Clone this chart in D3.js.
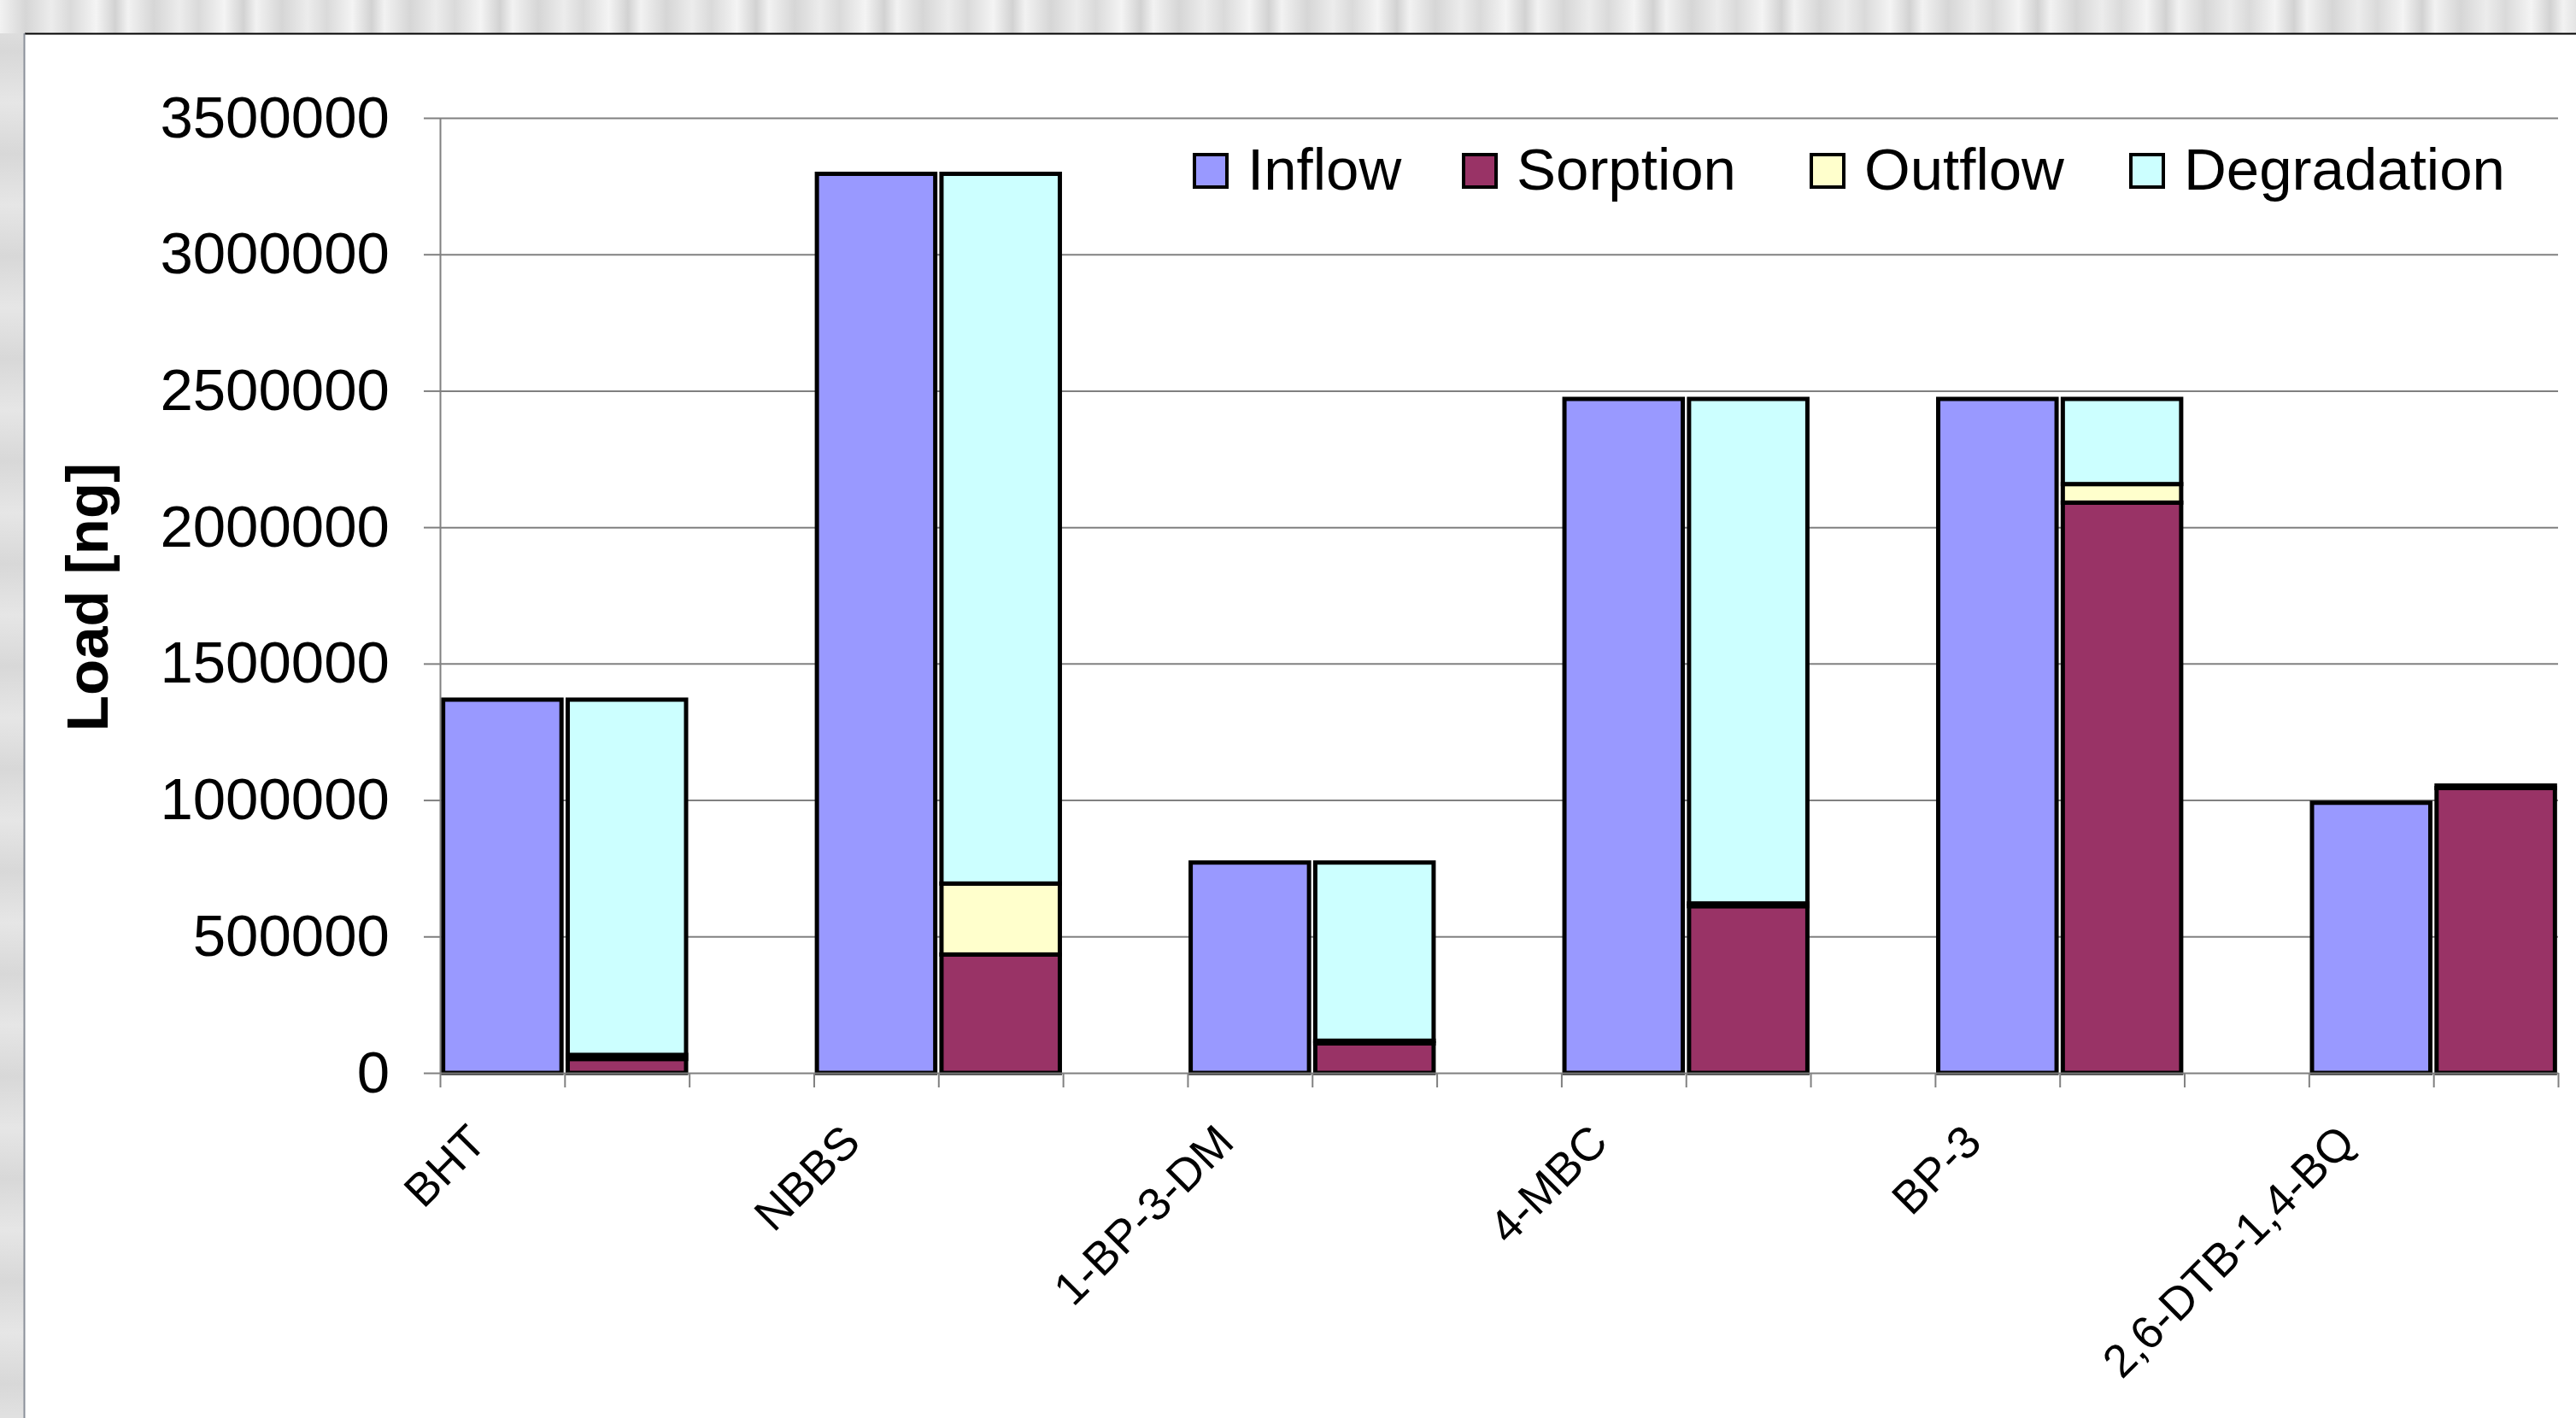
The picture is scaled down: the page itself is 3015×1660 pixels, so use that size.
<!DOCTYPE html>
<html>
<head>
<meta charset="utf-8">
<script src="https://cdn.jsdelivr.net/npm/d3@7"></script>
<style>
  html, body { margin:0; padding:0; background:#fff; }
  svg { display:block; font-family:"Liberation Sans", Arial, sans-serif; }
</style>
</head>
<body>
<svg id="chart" width="3015" height="1660"></svg>
<script>
// Load balance per compound: inflow bar next to a stacked fate bar.
const COMPOUNDS   = ["BHT","NBBS","1-BP-3-DM","4-MBC","BP-3","2,6-DTB-1,4-BQ"];
const INFLOW      = [1368000, 3295000, 771000, 2470000, 2470000, 990000];
const SORPTION    = [51000, 434000, 108000, 611000, 2090000, 1044000];
const OUTFLOW     = [15000, 260000, 10000, 10000, 68000, 9000];
const DEGRADATION = [1302000, 2601000, 653000, 1849000, 312000, 0];
const Y_TICKS     = [0, 500000, 1000000, 1500000, 2000000, 2500000, 3000000, 3500000];
const SERIES      = ["Inflow","Sorption","Outflow","Degradation"];
const COLORS      = {Inflow:"#9999FF", Sorption:"#993366", Outflow:"#FFFFCC", Degradation:"#CCFFFF"};

const W = 3015, H = 1660;
const plot = {left:515, right:2994, top:138, bottom:1256};
const BAR_STROKE = 5;
const svg = d3.select("#chart");

// ---- slide-like background: striped gray band on top and left, white panel
const defs = svg.append("defs");
const grad = defs.append("linearGradient").attr("id","stripes")
  .attr("gradientUnits","userSpaceOnUse").attr("x1",0).attr("x2",150).attr("y1",0).attr("y2",0)
  .attr("spreadMethod","repeat");
[["0%","#f2f2f2"],["20%","#d6d6d6"],["40%","#ececec"],["55%","#dadada"],["75%","#f4f4f4"],["90%","#d2d2d2"],["100%","#f2f2f2"]]
  .forEach(([o,c]) => grad.append("stop").attr("offset",o).attr("stop-color",c));
const gradL = defs.append("linearGradient").attr("id","stripesL")
  .attr("gradientUnits","userSpaceOnUse").attr("x1",0).attr("x2",0).attr("y1",0).attr("y2",120)
  .attr("spreadMethod","repeat");
[["0%","#e6e6e6"],["50%","#d8d8d8"],["100%","#e6e6e6"]]
  .forEach(([o,c]) => gradL.append("stop").attr("offset",o).attr("stop-color",c));

svg.append("rect").attr("width",W).attr("height",39).attr("fill","url(#stripes)");
svg.append("rect").attr("y",39).attr("width",29).attr("height",H-39).attr("fill","url(#stripesL)");
svg.append("rect").attr("x",29).attr("y",39).attr("width",W-29).attr("height",H-39).attr("fill","#fff");
svg.append("line").attr("x1",29).attr("x2",W).attr("y1",39.5).attr("y2",39.5).attr("stroke","#000").attr("stroke-width",2);
svg.append("line").attr("x1",28.5).attr("x2",28.5).attr("y1",39).attr("y2",H).attr("stroke","#8a8f99").attr("stroke-width",2);

// ---- slots: [inflow, fate stack, gap] per compound, no gap after the last
const slots = [];
COMPOUNDS.forEach((c,i) => {
  slots.push(`${i}-in`, `${i}-st`);
  if (i < COMPOUNDS.length-1) slots.push(`${i}-gap`);
});
const x = d3.scaleBand().domain(slots).range([plot.left, plot.right])
  .paddingInner(0.05).paddingOuter(0.025);
const xb = d3.scaleLinear().domain([0, slots.length]).range([plot.left, plot.right]);
const y = d3.scaleLinear().domain([0, 3500000]).range([plot.bottom, plot.top]);

// gridlines
svg.append("g").attr("transform",`translate(${plot.left},0)`)
  .call(d3.axisLeft(y).tickValues(Y_TICKS.slice(1)).tickSize(-(plot.right-plot.left)).tickFormat(""))
  .call(g => g.select(".domain").remove())
  .call(g => g.selectAll("line").attr("stroke","#808080").attr("stroke-width",2));

// bars
const table = COMPOUNDS.map((c,i) => ({compound:c, i, Inflow:INFLOW[i], Sorption:SORPTION[i],
  Outflow:OUTFLOW[i], Degradation:DEGRADATION[i]}));
const stack = d3.stack().keys(["Sorption","Outflow","Degradation"])(table);

const gBars = svg.append("g");
gBars.selectAll("rect.in").data(table).join("rect").attr("class","in")
  .attr("x", d => x(`${d.i}-in`)).attr("width", x.bandwidth())
  .attr("y", d => y(d.Inflow)).attr("height", d => y(0)-y(d.Inflow))
  .attr("fill", COLORS.Inflow).attr("stroke","#000").attr("stroke-width",BAR_STROKE);

stack.forEach(layer => {
  gBars.append("g").selectAll("rect").data(layer).join("rect")
    .attr("x", d => x(`${d.data.i}-st`)).attr("width", x.bandwidth())
    .attr("y", d => y(d[1])).attr("height", d => y(d[0])-y(d[1]))
    .attr("fill", COLORS[layer.key]).attr("stroke","#000").attr("stroke-width",BAR_STROKE);
});

// y axis
svg.append("g").attr("transform",`translate(${plot.left},0)`)
  .call(d3.axisLeft(y).tickValues(Y_TICKS).tickSize(19).tickSizeOuter(0).tickPadding(40).tickFormat(d3.format("d")))
  .call(g => g.selectAll("line, .domain").attr("stroke","#808080").attr("stroke-width",2))
  .call(g => g.selectAll("text").attr("font-size",69).attr("fill","#000")
    .attr("font-family","'Liberation Sans', Arial, sans-serif"));

// x axis: ticks on slot boundaries
svg.append("g").attr("transform",`translate(0,${plot.bottom})`)
  .call(d3.axisBottom(xb).tickValues(d3.range(slots.length+1)).tickSize(17).tickSizeOuter(0).tickFormat(""))
  .call(g => g.selectAll("line, .domain").attr("stroke","#808080").attr("stroke-width",2));

// category labels, rotated
svg.append("g").selectAll("text").data(COMPOUNDS).join("text")
  .attr("transform", (d,i) => {
    const cx = x(`${i}-in`) + x.bandwidth()/2 - 16;
    return `translate(${cx},${plot.bottom+84}) rotate(-45)`;
  })
  .attr("text-anchor","end").attr("font-size",54).attr("fill","#000")
  .text(d => d);

// y title
svg.append("text").attr("transform","translate(126,699) rotate(-90)")
  .attr("text-anchor","middle").attr("font-size",69).attr("font-weight","bold")
  .text("Load [ng]");

// legend
const legX = [1398, 1713, 2120, 2494];
const leg = svg.append("g").selectAll("g").data(SERIES).join("g")
  .attr("transform", (d,i) => `translate(${legX[i]},181)`);
leg.append("rect").attr("width",38).attr("height",38)
  .attr("fill", d => COLORS[d]).attr("stroke","#000").attr("stroke-width",4);
leg.append("text").attr("x",62).attr("y",41).attr("font-size",69).text(d => d);
</script>
</body>
</html>
